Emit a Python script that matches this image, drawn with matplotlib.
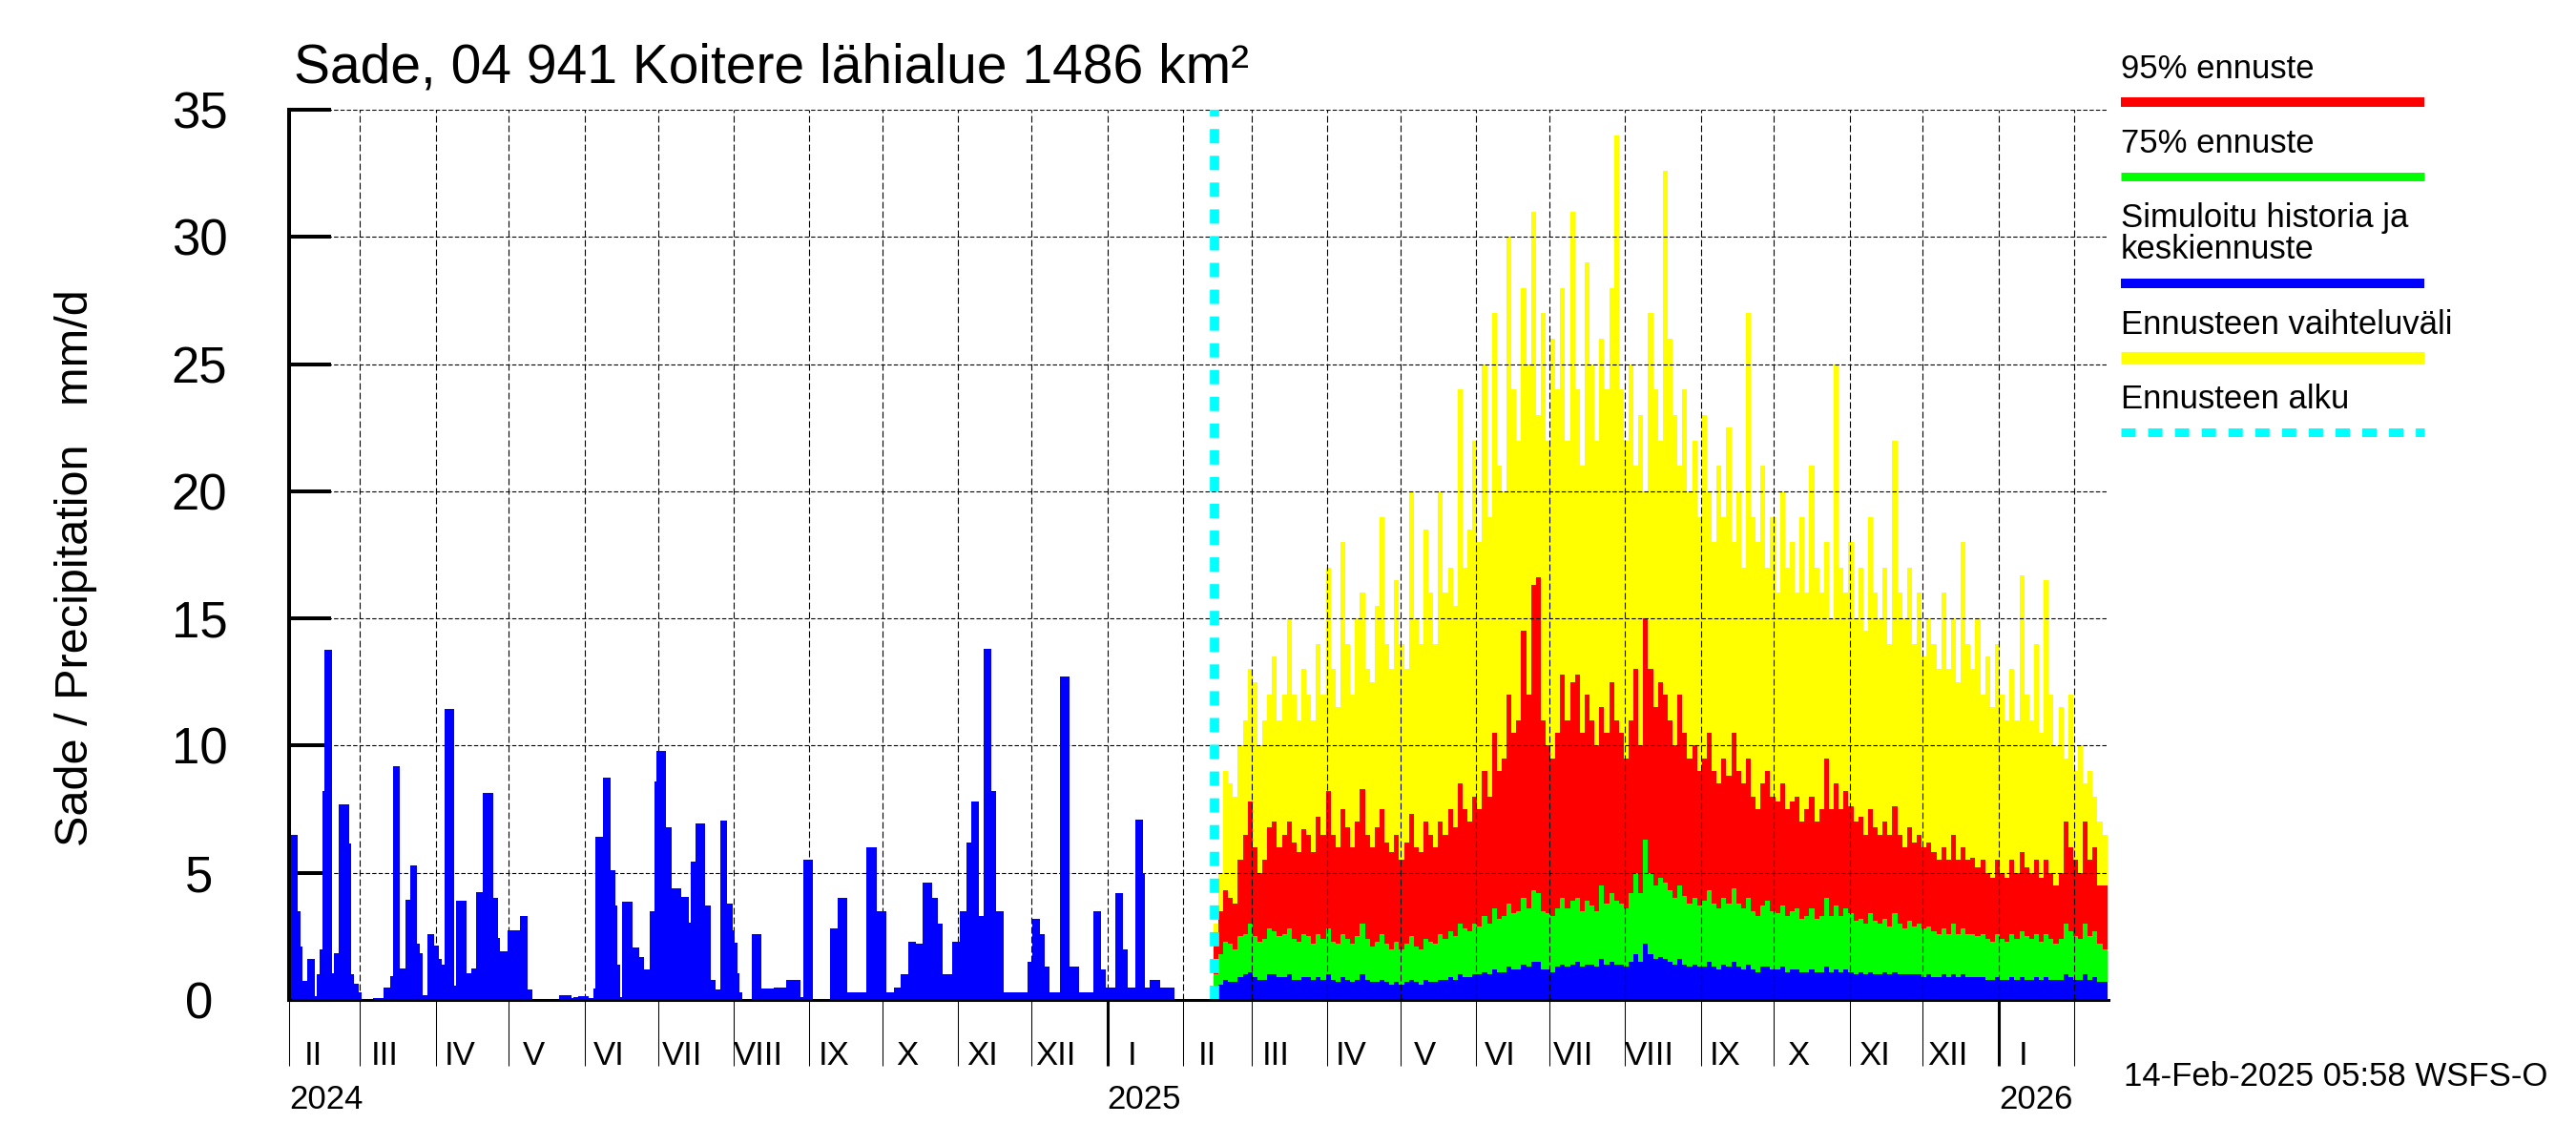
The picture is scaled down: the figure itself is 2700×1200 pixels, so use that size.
import datetime as dt
import matplotlib
matplotlib.use("Agg")
import matplotlib.pyplot as plt
import matplotlib.dates as mdates
import matplotlib.transforms as mtrans
from matplotlib.lines import Line2D

plt.rcParams['font.family'] = ['Liberation Sans', 'DejaVu Sans']
plt.rcParams['lines.scale_dashes'] = False

TITLE = "Sade, 04 941 Koitere lähialue 1486 km²"
YLABEL = "Sade / Precipitation   mm/d"
STAMP = "14-Feb-2025 05:58 WSFS-O"
MONTHS = ["I", "II", "III", "IV", "V", "VI", "VII", "VIII", "IX", "X", "XI", "XII"]
LEGEND = ["95% ennuste", "75% ennuste", "Simuloitu historia ja\nkeskiennuste",
          "Ennusteen vaihteluväli", "Ennusteen alku"]

# simulated history, daily mm/d from 2024-02-01
hist_start = dt.date(2024, 2, 1)
hist = [
    4.2, 6.5, 6.5, 6.5, 3.5, 2.1, 0.75, 0.75, 1.6, 1.6, 1.6, 0.16, 1.0, 2.0, 8.2, 13.75,
    13.75, 13.75, 1.05, 1.85, 1.85, 7.7, 7.7, 7.7, 7.7, 6.15, 1.0, 0.65, 0.65, 0.3,
    0.03, 0.03, 0.03, 0.03, 0.03, 0.06, 0.06, 0.06, 0.06, 0.5, 0.5, 0.5, 0.95, 9.2, 9.2,
    9.2, 1.25, 1.25, 3.95, 3.95, 5.3, 5.3, 5.3, 2.2, 1.85, 0.2, 0.2, 2.6, 2.6, 2.6, 2.15,
    2.15, 1.6, 1.4, 11.45, 11.45, 11.45, 11.45, 0.55, 3.9, 3.9, 3.9, 3.9, 1.05, 1.05,
    1.25, 1.25, 4.25, 4.25, 4.25, 8.15, 8.15, 8.15, 8.15, 4.0, 4.0, 2.45, 1.9, 1.9, 1.9,
    2.75, 2.75, 2.75, 2.75, 2.75, 3.3, 3.3, 3.3, 0.4, 0.4, 0.02, 0.02, 0.05, 0.05, 0.05,
    0.05, 0.05, 0.0, 0.0, 0.0, 0.0, 0.2, 0.2, 0.2, 0.2, 0.2, 0.06, 0.1, 0.1, 0.14, 0.14,
    0.14, 0.14, 0.06, 0.06, 0.45, 6.4, 6.4, 6.4, 8.75, 8.75, 8.75, 5.1, 5.1, 3.7, 1.4,
    0.1, 3.85, 3.85, 3.85, 3.85, 2.05, 2.05, 2.05, 1.7, 1.7, 1.2, 1.2, 3.5, 3.5, 8.6,
    9.8, 9.8, 9.8, 9.8, 6.8, 6.8, 4.4, 4.4, 4.4, 4.4, 4.05, 4.05, 4.05, 3.05, 5.45, 5.45,
    6.95, 6.95, 6.95, 6.95, 3.7, 3.7, 0.8, 0.8, 0.4, 0.4, 7.05, 7.05, 7.05, 3.8, 3.8,
    2.75, 2.25, 1.05, 0.3, 0.03, 0.03, 0.03, 0.03, 2.6, 2.6, 2.6, 2.6, 0.45,
    0.45, 0.45, 0.45, 0.45, 0.5, 0.5, 0.5, 0.5, 0.5, 0.8, 0.8, 0.8, 0.8, 0.8, 0.8, 0.1,
    5.5, 5.5, 5.5, 5.5, 0.05, 0.05, 0.05, 0.05, 0.05, 0.05, 0.05, 2.8, 2.8, 2.8, 4.0,
    4.0, 4.0, 4.0, 0.3, 0.3, 0.3, 0.3, 0.3, 0.3, 0.3, 0.3, 6.0, 6.0, 6.0, 6.0, 3.5, 3.5,
    3.5, 3.5, 0.3, 0.3, 0.3, 0.5, 0.5, 0.5, 1.0, 1.0, 1.0, 2.3, 2.3, 2.3, 2.2, 2.2, 2.2,
    4.6, 4.6, 4.6, 4.6, 4.0, 4.0, 3.0, 3.0, 1.0, 1.0, 1.0, 1.0, 2.3, 2.3, 2.3, 3.5, 3.5,
    3.5, 6.2, 6.2, 7.8, 7.8, 7.8, 3.3, 3.3, 13.8, 13.8, 13.8, 8.2, 8.2, 3.5, 3.5, 3.5,
    0.3, 0.3, 0.3, 0.3, 0.3, 0.3, 0.3, 0.3, 0.3, 0.3, 1.5, 1.5, 3.2, 3.2, 3.2, 2.6, 2.6,
    1.3, 1.3, 0.3, 0.3, 0.3, 0.3, 12.7, 12.7, 12.7, 12.7, 1.3, 1.3, 1.3, 1.3, 0.3, 0.3,
    0.3, 0.3, 0.3, 0.3, 3.5, 3.5, 3.5, 1.2, 1.2, 0.5, 0.5, 0.5, 0.5, 4.2, 4.2, 4.2, 2.0,
    2.0, 0.5, 0.5, 0.5, 7.1, 7.1, 7.1, 5.0, 0.5, 0.5, 0.8, 0.8, 0.8, 0.8, 0.5, 0.5,
    0.5, 0.5, 0.5, 0.5,
]

# forecast from 2025-02-14, one value per 2-day step
fc_start = dt.date(2025, 2, 14)
fc_step = 2
fc_max = [
    3, 5, 9, 8.5, 8, 10, 11, 13, 12.5, 10, 11, 12, 13.5, 11, 12, 15, 12, 11, 13, 12,
    11, 14, 12, 17, 13, 11.5, 18, 14, 12, 15, 16, 13, 12.5, 15.5, 19, 14, 13, 16.5, 14, 13,
    20, 15, 14, 18.5, 16, 14, 20, 16, 17, 15.5, 24, 17, 18.5, 22, 18, 25, 19, 27, 21, 20,
    30, 24, 22, 28, 25, 31, 23, 27, 22, 26, 24, 28, 22, 31, 24, 21, 29, 25, 22, 26,
    24, 28, 34, 24, 22, 25, 21, 23, 20, 27, 24, 22, 32.6, 26, 23, 21, 24, 20, 22, 19,
    23, 20, 18, 21, 19, 22.5, 18, 20, 17, 27, 19, 18, 21, 17, 19, 16, 20, 17, 18, 16,
    19, 16, 21, 17, 16, 18, 15, 25, 17, 16, 18, 15, 17, 14.5, 19, 16, 15, 17, 14, 22,
    16, 15, 17, 14, 16, 13.5, 15, 14, 13, 16, 13, 15, 12.5, 18, 14, 13, 15, 12, 13.5, 11.5,
    14, 12, 11, 13, 11, 16.7, 12, 11, 14, 10.5, 16.5, 12, 10, 11.5, 9.5, 12, 9, 10, 8.5, 9,
    8, 7, 6.5,
]
fc_p95 = [
    2.5, 3.5, 4.3, 4, 3.8, 5.5, 6.5, 7.8, 6, 5, 5.5, 6.8, 7, 6, 6.5, 7, 6.2, 5.8, 6.7, 6.5,
    5.8, 7.2, 6.5, 8.2, 6.5, 6, 7.5, 6.8, 6, 7, 8.3, 6.5, 6, 6.8, 7.5, 6.2, 5.8, 6.5, 5.5, 6.2,
    7.3, 6, 5.8, 7, 6.5, 6, 7, 6.5, 7.5, 6.8, 8.5, 7.5, 7, 8, 7.5, 9, 8, 10.5, 9, 9.5,
    12, 10.5, 11, 14.5, 12, 16.3, 16.6, 11, 10, 9.5, 10.5, 12.8, 11, 12.5, 12.8, 10.5, 12, 11, 10, 11.5,
    10.5, 12.5, 11, 10.5, 9.5, 11, 13, 10, 15, 13, 11.5, 12.5, 12, 11, 10, 12, 10.5, 9.5, 10, 9,
    9.5, 10.5, 9, 8.5, 9.5, 8.8, 10.5, 9, 8.5, 9.5, 8, 7.5, 8.5, 9, 8, 7.8, 8.5, 7.5, 7.8, 8,
    7, 7.5, 8, 7, 7.5, 9.5, 7.5, 8.5, 7.5, 8.2, 7.6, 7, 7.2, 6.5, 7.5, 6.8, 6.5, 7, 6.5, 7.6,
    6.5, 6, 6.8, 6.2, 6.5, 6, 6.2, 5.8, 5.5, 6, 5.5, 6.5, 5.5, 6, 5.5, 5.6, 5.2, 5.5, 5, 4.8,
    5.5, 5, 4.8, 5.5, 5, 5.8, 5.2, 5, 5.5, 4.8, 5.5, 5, 4.5, 5, 7, 6, 5.5, 5, 7, 5.5,
    6, 4.5, 4.5,
]
fc_p75 = [
    1, 1.8, 2.3, 2.2, 2, 2.5, 2.6, 3, 2.5, 2.3, 2.4, 2.8, 2.7, 2.5, 2.6, 2.8, 2.4, 2.3, 2.6, 2.5,
    2.2, 2.6, 2.4, 2.8, 2.3, 2.2, 2.6, 2.4, 2.2, 2.5, 3, 2.4, 2.1, 2.3, 2.6, 2.2, 2, 2.3, 2, 2.2,
    2.5, 2.1, 2, 2.4, 2.3, 2.2, 2.6, 2.4, 2.7, 2.5, 3, 2.8, 2.7, 3, 2.9, 3.3, 3, 3.6, 3.2, 3.3,
    3.8, 3.4, 3.5, 4, 3.6, 4.3, 4.2, 3.5, 3.4, 3.3, 3.6, 4, 3.6, 3.9, 4, 3.5, 3.9, 3.7, 3.5, 4.5,
    3.8, 4.2, 3.9, 3.8, 3.6, 4.2, 5, 4.2, 6.3, 5, 4.5, 4.8, 4.6, 4.3, 4, 4.5, 4.1, 3.8, 4, 3.7,
    3.9, 4.3, 3.8, 3.6, 4, 3.8, 4.4, 3.8, 3.6, 4, 3.5, 3.3, 3.7, 3.9, 3.5, 3.4, 3.7, 3.3, 3.5, 3.6,
    3.2, 3.3, 3.6, 3.2, 3.3, 4, 3.3, 3.7, 3.3, 3.6, 3.4, 3.1, 3.2, 3, 3.4, 3.1, 3, 3.2, 2.9, 3.4,
    3, 2.8, 3.1, 2.9, 3, 2.8, 2.9, 2.7, 2.6, 2.8, 2.6, 3, 2.6, 2.8, 2.6, 2.6, 2.5, 2.6, 2.4, 2.3,
    2.6, 2.4, 2.3, 2.6, 2.4, 2.7, 2.5, 2.4, 2.6, 2.3, 2.6, 2.4, 2.2, 2.4, 3, 2.7, 2.5, 2.4, 3, 2.5,
    2.7, 2.2, 2,
]
fc_med = [
    0.3, 0.6, 0.8, 0.7, 0.7, 0.9, 1, 1.1, 0.9, 0.8, 0.8, 1, 1, 0.9, 0.9, 1, 0.8, 0.8, 0.9, 0.9,
    0.8, 0.9, 0.8, 1, 0.8, 0.7, 0.9, 0.8, 0.7, 0.8, 1, 0.8, 0.7, 0.7, 0.8, 0.7, 0.6, 0.7, 0.6, 0.7,
    0.8, 0.7, 0.6, 0.8, 0.7, 0.7, 0.8, 0.8, 0.9, 0.8, 1.0, 0.9, 0.9, 1, 1, 1.1, 1, 1.2, 1.1, 1.1,
    1.3, 1.2, 1.2, 1.4, 1.3, 1.5, 1.5, 1.2, 1.2, 1.1, 1.3, 1.4, 1.3, 1.4, 1.5, 1.3, 1.4, 1.4, 1.3, 1.6,
    1.4, 1.5, 1.4, 1.4, 1.3, 1.5, 1.8, 1.5, 2.2, 1.8, 1.6, 1.7, 1.6, 1.5, 1.4, 1.6, 1.4, 1.3, 1.4, 1.3,
    1.3, 1.5, 1.3, 1.2, 1.4, 1.3, 1.5, 1.3, 1.2, 1.4, 1.2, 1.1, 1.3, 1.3, 1.2, 1.2, 1.3, 1.1, 1.2, 1.2,
    1.1, 1.1, 1.2, 1.1, 1.1, 1.3, 1.1, 1.2, 1.1, 1.2, 1.1, 1.0, 1.1, 1.0, 1.1, 1.0, 1.0, 1.1, 1.0, 1.1,
    1.0, 1.0, 1.0, 1.0, 1.0, 0.9, 1.0, 0.9, 0.9, 1.0, 0.9, 1.0, 0.9, 1.0, 0.9, 0.9, 0.9, 0.9, 0.8, 0.8,
    0.9, 0.8, 0.8, 0.9, 0.8, 0.9, 0.8, 0.8, 0.9, 0.8, 0.9, 0.8, 0.8, 0.8, 1.0, 0.9, 0.8, 0.8, 1.0, 0.8,
    0.9, 0.7, 0.7,
]

x_start = dt.date(2024, 2, 1)
x_end = dt.date(2026, 2, 15)

W, H = 2700, 1200
L, R, T, B = 303, 2210, 115, 1048
fig = plt.figure(figsize=(W / 100, H / 100), dpi=100)
ax = fig.add_axes([L / W, 1 - B / H, (R - L) / W, (B - T) / H])


def dn(d):
    return mdates.date2num(d)


# forecast bands (under the grid)
f0 = dn(fc_start)
n = len(fc_max)
f_edges = [f0 - 0.5 + i * fc_step for i in range(n + 1)]
for vals, col in [(fc_max, '#FFFF00'), (fc_p95, '#FF0000'), (fc_p75, '#00FF00'),
                  (fc_med, '#0000FF')]:
    ax.stairs(vals, f_edges, fill=True, color=col, baseline=0, zorder=1)

# history (over the grid)
h_edges = [dn(hist_start) - 0.5 + i for i in range(len(hist) + 1)]
ax.stairs(hist, h_edges, fill=True, color='#0000FF', baseline=0, zorder=3)

ax.set_xlim(dn(x_start), dn(x_end))
ax.set_ylim(0, 35)

# dashed grid
yt = list(range(0, 36, 5))
for v in yt[1:]:
    ax.axhline(v, color='black', lw=0.8, ls=(0, (3.2, 1.6)), zorder=2)
months = []
y, m = 2024, 3
while dt.date(y, m, 1) < x_end:
    months.append(dt.date(y, m, 1))
    m += 1
    if m > 12:
        m, y = 1, y + 1
for d in months:
    ax.axvline(dn(d), color='black', lw=0.8, ls=(0, (5, 2.2)), zorder=2)

# forecast start
ax.axvline(dn(fc_start), color='#00FFFF', lw=7, ls=(0, (10.8, 9.4)), zorder=4)

# spines
for s in ['top', 'right']:
    ax.spines[s].set_visible(False)
ax.spines['left'].set_linewidth(2.9)
ax.spines['bottom'].set_linewidth(2.2)
ax.spines['left'].set_zorder(5)
ax.spines['bottom'].set_zorder(5)

ax.set_yticks(yt)
ax.set_yticklabels([str(v) for v in yt])
ax.tick_params(axis='y', direction='in', length=32, width=2.9, labelsize=38, pad=67.7)
for lab in ax.get_yticklabels():
    lab.set_horizontalalignment('center')

ax.xaxis.set_major_locator(mdates.YearLocator())
ax.xaxis.set_minor_locator(mdates.MonthLocator())
ax.tick_params(axis='x', which='both', direction='out', length=50, labelbottom=False)
ax.tick_params(axis='x', which='major', width=2.2)
ax.tick_params(axis='x', which='minor', width=0.75)

tr = mtrans.blended_transform_factory(ax.transData, ax.transAxes)
labm = [dt.date(2024, 2, 1)] + [d for d in months if d < dt.date(2026, 2, 1)]
for d in labm:
    ax.text(dn(d) + 10, -0.0632, MONTHS[d.month - 1], transform=tr, ha='center',
            va='center', fontsize=25)
for d, txt in [(dt.date(2024, 2, 1), "2024"), (dt.date(2025, 1, 1), "2025"),
               (dt.date(2026, 1, 1), "2026")]:
    ax.text(dn(d), -0.1125, txt, transform=tr, ha='left', va='center', fontsize=25)

fig.text(308 / W, 1 - 87 / H, TITLE, fontsize=41, ha='left', va='baseline')
fig.text(80 / W, 1 - 595 / H, YLABEL, fontsize=35, rotation=90, ha='center', va='center')
fig.text(2226 / W, 1 - 1128 / H, STAMP, fontsize=25, ha='left', va='center')

# legend
leg_text_y = [72, 150, 245, 340, 418]
leg_line_y = [107, 184.5, 297, 375, 453]
leg_cols = ['#FF0000', '#00FF00', '#0000FF', '#FFFF00', '#00FFFF']
leg_lw = [7.2, 6.5, 7.2, 9.5, 6.5]
for i, (txt, ty, ly, c, lw) in enumerate(zip(LEGEND, leg_text_y, leg_line_y, leg_cols, leg_lw)):
    fig.text(2223 / W, 1 - ty / H, txt, fontsize=25, ha='left', va='center', linespacing=1.0)
    ls = (0, (10.8, 9.4)) if i == 4 else '-'
    fig.add_artist(Line2D([2223 / W, 2541 / W], [1 - ly / H, 1 - ly / H], color=c, lw=lw,
                          ls=ls, solid_capstyle='butt', dash_capstyle='butt',
                          transform=fig.transFigure))

fig.savefig("out.png", dpi=100)
